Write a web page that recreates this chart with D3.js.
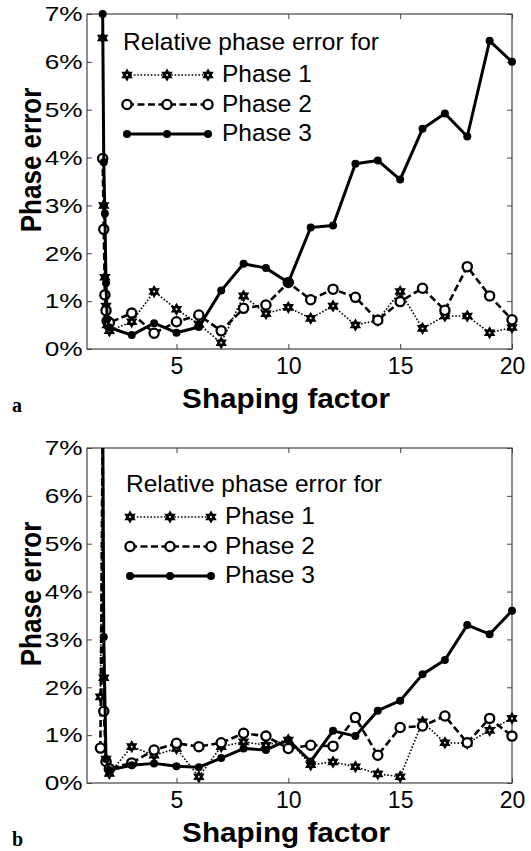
<!DOCTYPE html>
<html>
<head>
<meta charset="utf-8">
<script src="https://cdn.jsdelivr.net/npm/d3@7"></script>
<style>
  body { margin: 0; background: #fff; }
  text { font-family: "Liberation Sans", Arial, sans-serif; fill: #000; }
</style>
</head>
<body>
<div id="chart"></div>
<script>
// shaping factor values (spike region + integer steps)
var xTop = [1.7, 1.75, 1.8, 1.85, 1.9, 2, 3, 4, 5, 6, 7, 8, 9, 10, 11, 12, 13, 14, 15, 16, 17, 18, 19, 20];
var xBottom = [1.6, 1.7, 1.75, 1.85, 2, 3, 4, 5, 6, 7, 8, 9, 10, 11, 12, 13, 14, 15, 16, 17, 18, 19, 20];

// panel a : relative phase error (%)
var phase1Top = [6.5, 3.0, 1.5, 0.9, 0.5, 0.38, 0.57, 1.2, 0.83, 0.52, 0.13, 1.11, 0.74, 0.87, 0.64, 0.9, 0.5, 0.6, 1.2, 0.43, 0.69, 0.69, 0.34, 0.45];
var phase2Top = [3.98, 2.5, 1.13, 0.8, 0.59, 0.55, 0.75, 0.33, 0.57, 0.71, 0.38, 0.85, 0.92, 1.39, 1.03, 1.25, 1.08, 0.6, 0.99, 1.27, 0.81, 1.72, 1.11, 0.61];
var phase3Top = [7.0, 3.9, 2.83, 1.38, 0.62, 0.45, 0.29, 0.54, 0.34, 0.46, 1.22, 1.78, 1.69, 1.39, 2.54, 2.58, 3.87, 3.94, 3.54, 4.6, 4.92, 4.44, 6.44, 6.0];

// panel b : relative phase error (%)
var phase1Bottom = [1.8, 7.5, 2.2, 0.5, 0.2, 0.76, 0.58, 0.72, 0.13, 0.76, 0.86, 0.79, 0.9, 0.38, 0.44, 0.34, 0.19, 0.13, 1.28, 0.84, 0.83, 1.1, 1.35];
var phase2Bottom = [0.73, 7.5, 1.5, 0.45, 0.3, 0.42, 0.69, 0.83, 0.76, 0.84, 1.04, 0.98, 0.72, 0.79, 0.77, 1.37, 0.58, 1.16, 1.19, 1.4, 0.84, 1.35, 0.98];
var phase3Bottom = [7.5, 8.0, 3.05, 0.5, 0.27, 0.37, 0.41, 0.35, 0.33, 0.52, 0.72, 0.69, 0.9, 0.45, 1.09, 0.98, 1.51, 1.72, 2.27, 2.57, 3.3, 3.11, 3.6];

var seriesNames = ["Phase 1", "Phase 2", "Phase 3"];
var xTicks = [5, 10, 15, 20];
var yTicks = [0, 1, 2, 3, 4, 5, 6, 7];
var legendTitle = "Relative phase error for";

var W = 531, H = 851;
var svg = d3.select("#chart").append("svg")
    .attr("width", W)
    .attr("height", H);

// hexagram marker for phase 1 (both triangles wound the same way so it fills)
function hexagram(r) {
    var h = r * 0.866;
    return "M0," + (-r) + "L" + h + "," + (r / 2) + "L" + (-h) + "," + (r / 2) + "Z" +
           "M0," + r + "L" + (-h) + "," + (-r / 2) + "L" + h + "," + (-r / 2) + "Z";
}

var styles = [
    { dash: "1.6,1.8", width: 1.6, marker: "hex" },
    { dash: "7,3.5", width: 2.6, marker: "circle" },
    { dash: null, width: 3, marker: "dot" }
];

function drawMarker(g, kind, cx, cy) {
    if (kind === "hex") {
        g.append("path").attr("d", hexagram(5.4))
            .attr("transform", "translate(" + cx + "," + cy + ")")
            .attr("fill", "#000").attr("stroke", "#000").attr("stroke-width", 1.2);
        g.append("circle").attr("cx", cx).attr("cy", cy).attr("r", 1).attr("fill", "#fff");
    } else if (kind === "circle") {
        g.append("circle").attr("cx", cx).attr("cy", cy).attr("r", 4.6)
            .attr("fill", "#fff").attr("stroke", "#000").attr("stroke-width", 2.3);
    } else {
        g.append("circle").attr("cx", cx).attr("cy", cy).attr("r", 4).attr("fill", "#000");
    }
}

function drawPanel(cfg) {
    var left = 87, right = 512, top = cfg.top, bottom = cfg.top + 335;

    var x = d3.scaleLinear().domain([1, 20]).range([left, right]);
    var y = d3.scaleLinear().domain([0, 7]).range([bottom, top]);

    var g = svg.append("g");

    // clip for lines
    g.append("clipPath").attr("id", "clip" + cfg.id)
        .append("rect").attr("x", left).attr("y", top)
        .attr("width", right - left).attr("height", bottom - top);

    // axes (ticks inward, mirrored)
    g.append("g")
        .attr("transform", "translate(0," + bottom + ")")
        .call(d3.axisBottom(x).tickValues(xTicks).tickSize(-5).tickPadding(9))
        .call(function(a) {
            a.select(".domain").remove();
            a.selectAll("line").attr("stroke", "#444");
            a.selectAll("text").style("font-size", "23px").attr("fill", "#000");
        });
    g.append("g")
        .attr("transform", "translate(0," + top + ")")
        .call(d3.axisTop(x).tickValues(xTicks).tickSize(-5).tickFormat(""))
        .call(function(a) {
            a.select(".domain").remove();
            a.selectAll("line").attr("stroke", "#444");
        });
    g.append("g")
        .attr("transform", "translate(" + left + ",0)")
        .call(d3.axisLeft(y).tickValues(yTicks).tickSize(-5).tickPadding(3.5)
            .tickFormat(function(d) { return d + "%"; }))
        .call(function(a) {
            a.select(".domain").remove();
            a.selectAll("line").attr("stroke", "#444");
            a.selectAll("text").style("font-size", "21px").attr("fill", "#000")
                .attr("transform", "scale(1.25,1)");
        });
    g.append("g")
        .attr("transform", "translate(" + right + ",0)")
        .call(d3.axisRight(y).tickValues(yTicks).tickSize(-5).tickFormat(""))
        .call(function(a) {
            a.select(".domain").remove();
            a.selectAll("line").attr("stroke", "#444");
        });

    // box
    g.append("rect")
        .attr("x", left).attr("y", top)
        .attr("width", right - left).attr("height", bottom - top)
        .attr("fill", "none").attr("stroke", "#444").attr("stroke-width", 1.2);

    var line = d3.line()
        .x(function(d) { return x(d[0]); })
        .y(function(d) { return y(d[1]); });

    cfg.series.forEach(function(vals, i) {
        var pts = cfg.xs.map(function(v, j) { return [v, vals[j]]; });
        var st = styles[i];
        g.append("path")
            .datum(pts)
            .attr("clip-path", "url(#clip" + cfg.id + ")")
            .attr("d", line)
            .attr("fill", "none")
            .attr("stroke", "#000")
            .attr("stroke-width", st.width)
            .attr("stroke-dasharray", st.dash)
            .attr("stroke-linejoin", "round");
        var mg = g.append("g");
        pts.filter(function(p) { return p[1] <= 7; }).forEach(function(p) {
            drawMarker(mg, st.marker, x(p[0]), y(p[1]));
        });
    });

    // legend
    var lg = g.append("g");
    lg.append("text")
        .attr("x", cfg.legX - 4).attr("y", cfg.legY)
        .style("font-size", "24.5px")
        .text(legendTitle);
    seriesNames.forEach(function(name, i) {
        var ly = cfg.legY + 25 + i * 29.5;
        var st = styles[i];
        lg.append("line")
            .attr("x1", cfg.legX).attr("x2", cfg.legX + 81)
            .attr("y1", ly).attr("y2", ly)
            .attr("stroke", "#000").attr("stroke-width", st.width)
            .attr("stroke-dasharray", st.dash);
        [0, 40, 81].forEach(function(dx) { drawMarker(lg, st.marker, cfg.legX + dx, ly); });
        lg.append("text")
            .attr("x", cfg.legX + 95).attr("y", ly + 7)
            .style("font-size", "24.5px")
            .text(name);
    });

    // axis titles
    g.append("text")
        .attr("transform", "translate(286," + (bottom + 59) + ") scale(1.1,1)")
        .attr("text-anchor", "middle")
        .style("font-size", "27px").style("font-weight", "bold")
        .text("Shaping factor");
    g.append("text")
        .attr("transform", "translate(41," + (top + 146) + ") rotate(-90) scale(1,1.1)")
        .attr("text-anchor", "middle")
        .style("font-size", "26px").style("font-weight", "bold")
        .text("Phase error");
    g.append("text")
        .attr("x", 12).attr("y", bottom + 63)
        .style("font-family", "'Liberation Serif', serif")
        .style("font-size", "20px").style("font-weight", "bold")
        .text(cfg.label);
}

drawPanel({ id: "a", top: 14, xs: xTop, series: [phase1Top, phase2Top, phase3Top],
            legX: 127, legY: 50, label: "a" });
drawPanel({ id: "b", top: 448, xs: xBottom, series: [phase1Bottom, phase2Bottom, phase3Bottom],
            legX: 130, legY: 492, label: "b" });
</script>
</body>
</html>
